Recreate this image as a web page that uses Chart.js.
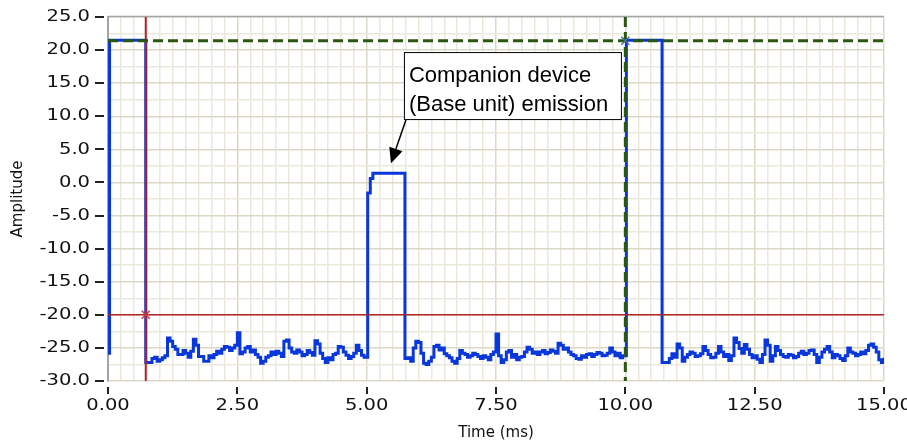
<!DOCTYPE html>
<html>
<head>
<meta charset="utf-8">
<script src="https://cdn.jsdelivr.net/npm/chart.js@4.4.1/dist/chart.umd.min.js"></script>
<style>
  html, body { margin: 0; padding: 0; background: #fff; }
  #wrap { width: 907px; height: 442px; position: relative; }
</style>
</head>
<body>
<div id="wrap"><canvas id="chart"></canvas></div>
<script>
// ==============================
// Datos
// ==============================
// Flancos de las ráfagas (ms, amplitud)
const edgeTimes = [0.00, 0.03, 0.73, 5.02, 5.07, 5.12, 5.74, 10.02, 10.71];
const edgeAmps  = [-25.8, 21.5, -27.2, -1.6, 0.6, 1.4, -26.6, 21.5, -27.2];

// Ruido de fondo, muestreado cada 0.05 ms
const noiseStep = 0.05;
const noise1Start = 0.8;
const noise1 = [-27.2, -26.6, -26.4, -27.0, -26.8, -26.5, -26.2, -23.5, -24.0, -24.8,
                -25.2, -26.0, -26.0, -25.4, -25.8, -26.4, -25.5, -23.7, -24.6, -26.3,
                -26.3, -27.0, -27.0, -26.2, -26.5, -26.0, -25.5, -25.8, -25.2, -24.8,
                -24.9, -25.4, -25.0, -24.6, -22.7, -25.9, -25.6, -25.0, -24.8, -25.6,
                -25.3, -26.0, -26.4, -27.3, -27.0, -26.4, -26.2, -25.6, -26.0, -25.5,
                -25.8, -26.3, -24.0, -23.8, -25.0, -25.6, -25.8, -25.3, -25.6, -26.2,
                -26.0, -25.4, -25.7, -26.1, -23.9, -24.4, -25.8, -26.6, -27.2, -26.5,
                -26.8, -26.0, -25.8, -24.8, -24.9, -25.6, -26.1, -26.6, -26.3, -25.8,
                -24.6, -25.4, -26.1, -26.4];
const noise2Start = 5.8;
const noise2 = [-26.5, -27.0, -25.0, -24.0, -24.2, -25.8, -27.3, -27.5, -27.0, -26.4,
                -24.8, -24.6, -25.3, -25.0, -25.9, -26.2, -26.5, -27.0, -27.3, -26.6,
                -25.4, -25.8, -26.0, -26.4, -26.2, -25.8, -26.0, -26.3, -26.6, -26.2,
                -26.4, -26.8, -26.0, -25.6, -22.9, -26.2, -27.2, -26.8, -25.6, -25.4,
                -26.4, -26.0, -26.8, -26.4, -26.3, -25.6, -24.9, -25.2, -25.8, -25.6,
                -26.0, -25.6, -25.4, -25.9, -25.7, -25.3, -25.5, -25.8, -24.3, -24.6,
                -25.2, -25.0, -25.6, -26.0, -26.2, -26.6, -26.7, -26.2, -26.4, -26.0,
                -25.9, -26.3, -26.0, -25.7, -25.8, -26.2, -26.1, -25.8, -25.0, -25.6,
                -26.2, -25.8, -26.5, -26.2];
const noise3Start = 10.8;
const noise3 = [-27.2, -26.6, -25.9, -26.4, -24.4, -25.0, -27.0, -26.4, -26.0, -25.6,
                -25.8, -26.3, -26.2, -25.9, -24.8, -25.4, -26.0, -26.5, -26.4, -25.8,
                -24.8, -25.6, -26.3, -26.0, -26.9, -26.2, -23.5, -24.2, -25.1, -25.8,
                -24.5, -25.2, -26.0, -26.5, -26.2, -26.7, -27.2, -26.0, -23.8, -24.6,
                -27.0, -26.2, -24.8, -25.4, -26.0, -26.3, -26.4, -26.0, -26.1, -26.5,
                -26.3, -25.8, -25.5, -26.0, -25.8, -25.4, -25.3, -26.0, -27.2, -26.4,
                -25.6, -25.2, -24.8, -25.6, -26.5, -26.0, -26.2, -26.6, -26.9, -26.2,
                -25.0, -25.6, -25.8, -26.2, -26.0, -25.6, -25.9, -25.4, -24.6, -24.4,
                -24.9, -25.6, -26.8, -27.2, -26.5];

// Cursores
const cursorA = { x: 0.73, y: -20.0 };
const cursorB = { x: 10.0, y: 21.4 };

// Etiquetas de los ejes
const xTickLabels = ['0.00', '2.50', '5.00', '7.50', '10.00', '12.50', '15.00'];
const yTickLabels = ['25.0', '20.0', '15.0', '10.0', '5.0', '0.0', '-5.0', '-10.0',
                     '-15.0', '-20.0', '-25.0', '-30.0'];

// Anotación
const noteLines = ['Companion device', '(Base unit) emission'];
const noteBoxAt = { x: 5.72, y: 19.7 };
const noteTipAt = { x: 5.47, y: 2.9 };

// ==============================
// Construcción de la serie
// ==============================
const points = [];
edgeTimes.forEach((t, i) => points.push({ x: t, y: edgeAmps[i] }));
[[noise1Start, noise1], [noise2Start, noise2], [noise3Start, noise3]].forEach(([t0, arr]) => {
  arr.forEach((v, i) => points.push({ x: +(t0 + i * noiseStep).toFixed(2), y: v }));
});
points.sort((a, b) => a.x - b.x);

function isMultiple(v, step) {
  return Math.abs(v / step - Math.round(v / step)) < 1e-6;
}

// ==============================
// Plugin: marco, etiquetas, cursores y anotación
// ==============================
const decorPlugin = {
  id: 'decor',
  beforeDatasetsDraw(chart) {
    const { ctx, chartArea: a } = chart;
    ctx.save();
    // Borde superior gris
    ctx.strokeStyle = '#a4a4a4';
    ctx.lineWidth = 1.5;
    ctx.beginPath();
    ctx.moveTo(a.left, a.top - 0.5);
    ctx.lineTo(a.right, a.top - 0.5);
    ctx.stroke();
    ctx.restore();
  },
  afterDatasetsDraw(chart) {
    const { ctx, chartArea: a, scales: { x, y } } = chart;
    ctx.save();

    // Cursor rojo
    ctx.strokeStyle = '#b02424';
    ctx.lineWidth = 1.5;
    ctx.beginPath();
    ctx.moveTo(a.left, y.getPixelForValue(cursorA.y));
    ctx.lineTo(a.right, y.getPixelForValue(cursorA.y));
    ctx.stroke();
    ctx.lineWidth = 2;
    ctx.beginPath();
    ctx.moveTo(x.getPixelForValue(cursorA.x), a.top);
    ctx.lineTo(x.getPixelForValue(cursorA.x), a.bottom);
    ctx.stroke();

    // Cursor verde (discontinuo)
    ctx.strokeStyle = '#2a5712';
    ctx.lineWidth = 3;
    ctx.setLineDash([10, 5]);
    ctx.beginPath();
    ctx.moveTo(a.left, y.getPixelForValue(cursorB.y));
    ctx.lineTo(a.right, y.getPixelForValue(cursorB.y));
    ctx.stroke();
    ctx.beginPath();
    ctx.moveTo(x.getPixelForValue(cursorB.x), a.top);
    ctx.lineTo(x.getPixelForValue(cursorB.x), a.bottom);
    ctx.stroke();
    ctx.setLineDash([]);

    // Marcas "x" de los cursores
    const cross = (cx, cy, color) => {
      ctx.strokeStyle = color;
      ctx.lineWidth = 1.5;
      ctx.beginPath();
      ctx.moveTo(cx - 4, cy - 4); ctx.lineTo(cx + 4, cy + 4);
      ctx.moveTo(cx - 4, cy + 4); ctx.lineTo(cx + 4, cy - 4);
      ctx.stroke();
    };
    cross(x.getPixelForValue(cursorA.x), y.getPixelForValue(cursorA.y), '#c03a4a');
    cross(x.getPixelForValue(cursorB.x), y.getPixelForValue(cursorB.y), '#4a6a9a');

    // Marcas de graduación
    ctx.fillStyle = '#222';
    yTickLabels.forEach(l => {
      const py = Math.round(y.getPixelForValue(parseFloat(l)));
      ctx.fillRect(a.left - 13, py - 1, 9, 2);
    });
    xTickLabels.forEach(l => {
      const px = Math.round(x.getPixelForValue(parseFloat(l)));
      ctx.fillRect(px - 1, a.bottom + 6, 2, 7);
    });

    // Etiquetas (algo ensanchadas como en el original)
    ctx.font = '16px "DejaVu Sans"';
    ctx.fillStyle = '#111';
    ctx.textBaseline = 'middle';
    const sx = 1.22;
    yTickLabels.forEach(l => {
      const py = y.getPixelForValue(parseFloat(l));
      ctx.save();
      ctx.translate(a.left - 18, py);
      ctx.scale(sx, 1);
      ctx.textAlign = 'right';
      ctx.fillText(l, 0, 0);
      ctx.restore();
    });
    xTickLabels.forEach(l => {
      const px = x.getPixelForValue(parseFloat(l));
      ctx.save();
      ctx.translate(px, a.bottom + 25);
      ctx.scale(sx, 1);
      ctx.textAlign = 'center';
      ctx.fillText(l, 0, 0);
      ctx.restore();
    });

    // Anotación con flecha
    const bx = x.getPixelForValue(noteBoxAt.x);
    const by = y.getPixelForValue(noteBoxAt.y);
    const bw = 217, bh = 67;
    ctx.fillStyle = '#fff';
    ctx.fillRect(bx, by, bw, bh);
    ctx.strokeStyle = '#000';
    ctx.lineWidth = 1;
    ctx.strokeRect(bx + 0.5, by + 0.5, bw, bh);
    ctx.fillStyle = '#000';
    ctx.font = '22px "Liberation Sans", Arial';
    ctx.textAlign = 'left';
    ctx.textBaseline = 'alphabetic';
    ctx.fillText(noteLines[0], bx + 5, by + 30);
    ctx.fillText(noteLines[1], bx + 5, by + 59);

    const tx = x.getPixelForValue(noteTipAt.x);
    const ty = y.getPixelForValue(noteTipAt.y);
    const sxA = bx + 2, syA = by + bh + 1;
    const ang = Math.atan2(ty - syA, tx - sxA);
    const len = 15, hw = 7;
    const baseX = tx - len * Math.cos(ang), baseY = ty - len * Math.sin(ang);
    ctx.lineWidth = 1.5;
    ctx.beginPath();
    ctx.moveTo(sxA, syA);
    ctx.lineTo(baseX, baseY);
    ctx.stroke();
    ctx.beginPath();
    ctx.moveTo(tx, ty);
    ctx.lineTo(baseX + hw * Math.sin(ang), baseY - hw * Math.cos(ang));
    ctx.lineTo(baseX - hw * Math.sin(ang), baseY + hw * Math.cos(ang));
    ctx.closePath();
    ctx.fill();

    ctx.restore();
  }
};

Chart.defaults.font.family = '"DejaVu Sans", Verdana, sans-serif';
Chart.defaults.color = '#111';

new Chart(document.getElementById('chart').getContext('2d'), {
  type: 'line',
  data: {
    datasets: [{
      data: points,
      borderColor: '#0837db',
      borderWidth: 3,
      stepped: 'before',
      pointRadius: 0,
      fill: false
    }]
  },
  options: {
    responsive: true,
    maintainAspectRatio: false,
    animation: false,
    devicePixelRatio: 1,
    layout: { padding: { top: 17, right: 23, left: 0, bottom: 0 } },
    plugins: { legend: { display: false }, tooltip: { enabled: false } },
    scales: {
      x: {
        type: 'linear',
        min: 0,
        max: 15,
        ticks: { display: false, stepSize: 0.25 },
        grid: {
          drawTicks: false,
          color: c => isMultiple(c.tick.value, 2.5) ? '#dcd8c6' : '#ebe8dc',
          lineWidth: 1.5
        },
        border: { display: false },
        title: { display: true, text: 'Time (ms)', font: { size: 15 }, padding: { top: 1, bottom: 0 } },
        afterFit: s => { s.height = 61; }
      },
      y: {
        min: -30,
        max: 25,
        ticks: { display: false, stepSize: 2.5 },
        grid: {
          drawTicks: false,
          color: c => isMultiple(c.tick.value, 5) ? '#dcd8c6' : '#ebe8dc',
          lineWidth: 1.5
        },
        border: { display: true, color: '#a4a4a4', width: 2 },
        title: { display: true, text: 'Amplitude', font: { size: 15 }, padding: { top: 9, bottom: 0 } },
        afterFit: s => { s.width = 108; }
      }
    }
  },
  plugins: [decorPlugin]
});
</script>
</body>
</html>
